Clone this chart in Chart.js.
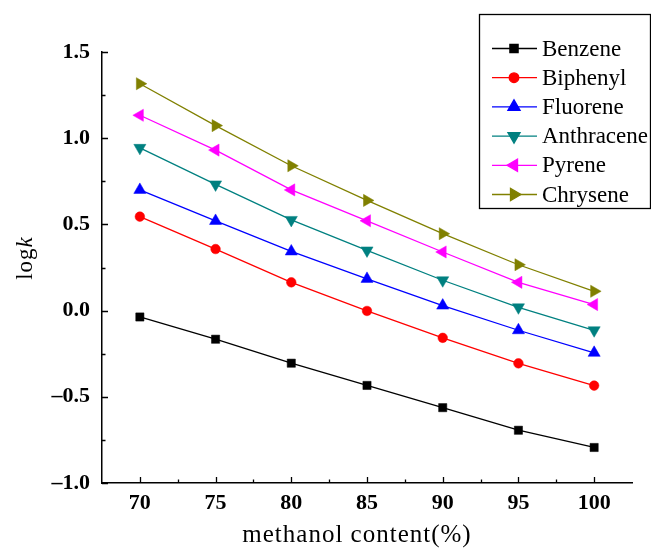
<!DOCTYPE html>
<html>
<head>
<meta charset="utf-8">
<script src="https://cdn.jsdelivr.net/npm/chart.js@4/dist/chart.umd.min.js"></script>
<style>
  html, body { margin: 0; padding: 0; background: #fff; }
  #wrap { position: relative; width: 651px; height: 553px; }
</style>
</head>
<body>
<div id="wrap"><canvas id="c"></canvas></div>
<script>
// methanol content (%) on x, log k on y
const methanol   = [70, 75, 80, 85, 90, 95, 100];
const benzene    = [-0.037, -0.166, -0.305, -0.434, -0.563, -0.694, -0.794];
const biphenyl   = [0.545, 0.357, 0.164, -0.002, -0.158, -0.306, -0.435];
const fluorene   = [0.700, 0.520, 0.343, 0.184, 0.029, -0.114, -0.245];
const anthracene = [0.944, 0.732, 0.526, 0.349, 0.176, 0.019, -0.114];
const pyrene     = [1.133, 0.931, 0.700, 0.521, 0.340, 0.164, 0.035];
const chrysene   = [1.316, 1.073, 0.840, 0.639, 0.446, 0.266, 0.112];
const yTicks     = [-1.0, -0.5, 0.0, 0.5, 1.0, 1.5];

const SERIF = '"Liberation Serif", "Times New Roman", serif';

const series = [
  { label: 'Benzene',    values: benzene,    color: '#000000', style: 'rect',     radius: 5.8, rot: 0 },
  { label: 'Biphenyl',   values: biphenyl,   color: '#ff0000', style: 'circle',   radius: 4.8, rot: 0 },
  { label: 'Fluorene',   values: fluorene,   color: '#0000ff', style: 'triangle', radius: 7, rot: 0 },
  { label: 'Anthracene', values: anthracene, color: '#008080', style: 'triangle', radius: 7, rot: 180 },
  { label: 'Pyrene',     values: pyrene,     color: '#ff00ff', style: 'triangle', radius: 7, rot: 270 },
  { label: 'Chrysene',   values: chrysene,   color: '#808000', style: 'triangle', radius: 7, rot: 90 },
];

const datasets = series.map(s => ({
  label: s.label,
  data: methanol.map((x, i) => ({ x, y: s.values[i] })),
  borderColor: s.color,
  backgroundColor: s.color,
  borderWidth: 1.3,
  pointStyle: s.style,
  pointRadius: s.radius,
  pointRotation: s.rot,
  pointBorderWidth: 0.5,
  pointBorderColor: s.color,
  pointBackgroundColor: s.color,
  tension: 0,
  fill: false,
}));

// inward ticks, axis titles and the boxed legend
const decor = {
  id: 'decor',
  afterDraw(chart) {
    const { ctx, chartArea: a, scales: { x, y } } = chart;
    ctx.save();
    ctx.strokeStyle = '#000';
    ctx.lineWidth = 1.3;
    ctx.beginPath();
    methanol.forEach(v => {
      const px = Math.round(x.getPixelForValue(v)) + 0.5;
      ctx.moveTo(px, a.bottom); ctx.lineTo(px, a.bottom - 6);
      if (v < 100) {
        const pm = Math.round(x.getPixelForValue(v + 2.5)) + 0.5;
        ctx.moveTo(pm, a.bottom); ctx.lineTo(pm, a.bottom - 3.5);
      }
    });
    yTicks.forEach(v => {
      const py = Math.round(y.getPixelForValue(v)) + 0.5;
      ctx.moveTo(a.left, py); ctx.lineTo(a.left + 6, py);
      if (v < 1.5) {
        const pm = Math.round(y.getPixelForValue(v + 0.25)) + 0.5;
        ctx.moveTo(a.left, pm); ctx.lineTo(a.left + 3.5, pm);
      }
    });
    ctx.stroke();

    // axis titles
    ctx.fillStyle = '#000';
    ctx.textBaseline = 'alphabetic';
    ctx.font = '25px ' + SERIF;
    ctx.letterSpacing = '1px';
    ctx.textAlign = 'center';
    ctx.fillText('methanol content(%)', (a.left + a.right) / 2 - 10, 542);

    ctx.save();
    ctx.translate(32, 258);
    ctx.rotate(-Math.PI / 2);
    ctx.font = '23px ' + SERIF;
    ctx.letterSpacing = '1px';
    const w1 = ctx.measureText('log').width;
    ctx.font = 'italic 23px ' + SERIF;
    const w2 = ctx.measureText('k').width;
    ctx.textAlign = 'left';
    ctx.font = '23px ' + SERIF;
    ctx.fillText('log', -(w1 + w2) / 2, 0);
    ctx.font = 'italic 23px ' + SERIF;
    ctx.fillText('k', -(w1 + w2) / 2 + w1, 0);
    ctx.restore();

    // legend
    ctx.letterSpacing = '0px';
    ctx.lineWidth = 1.3;
    ctx.strokeStyle = '#000';
    ctx.strokeRect(479.5, 14.5, 171, 194);
    ctx.font = '23px ' + SERIF;
    ctx.textAlign = 'left';
    ctx.textBaseline = 'middle';
    chart.data.datasets.forEach((ds, i) => {
      const ly = 48.5 + i * 29.2;
      ctx.strokeStyle = ds.borderColor;
      ctx.fillStyle = ds.borderColor;
      ctx.lineWidth = 1.3;
      ctx.beginPath();
      ctx.moveTo(492, ly); ctx.lineTo(537, ly);
      ctx.stroke();
      Chart.helpers.drawPoint(ctx, {
        pointStyle: ds.pointStyle,
        radius: ds.pointRadius,
        rotation: ds.pointRotation,
        borderWidth: 0.5,
      }, 514, ly);
      ctx.fillStyle = '#000';
      ctx.fillText(ds.label, 542, ly + 1);
    });
    ctx.restore();
  }
};

new Chart(document.getElementById('c'), {
  type: 'line',
  data: { datasets },
  plugins: [decor],
  options: {
    responsive: true,
    maintainAspectRatio: false,
    animation: false,
    layout: { padding: { left: 0, top: 52, right: 19, bottom: 0 } },
    plugins: { legend: { display: false }, tooltip: { enabled: false } },
    scales: {
      x: {
        type: 'linear',
        min: 67.5,
        max: 102.5,
        afterBuildTicks: s => { s.ticks = methanol.map(v => ({ value: v })); },
        afterFit: s => { s.height = 70; },
        grid: { display: false, drawTicks: false },
        border: { display: true, color: '#000', width: 1.5 },
        ticks: {
          color: '#000',
          padding: 7,
          maxRotation: 0,
          font: { family: SERIF, size: 22, weight: 'bold' },
        },
      },
      y: {
        type: 'linear',
        min: -1,
        max: 1.5,
        afterBuildTicks: s => { s.ticks = yTicks.map(v => ({ value: v })); },
        afterFit: s => { s.width = 102; },
        grid: { display: false, drawTicks: false },
        border: { display: true, color: '#000', width: 1.5 },
        ticks: {
          color: '#000',
          padding: 12,
          callback: v => v.toFixed(1).replace('-', '\u2013'),
          font: { family: SERIF, size: 22, weight: 'bold' },
        },
      },
    },
  },
});
</script>
</body>
</html>
